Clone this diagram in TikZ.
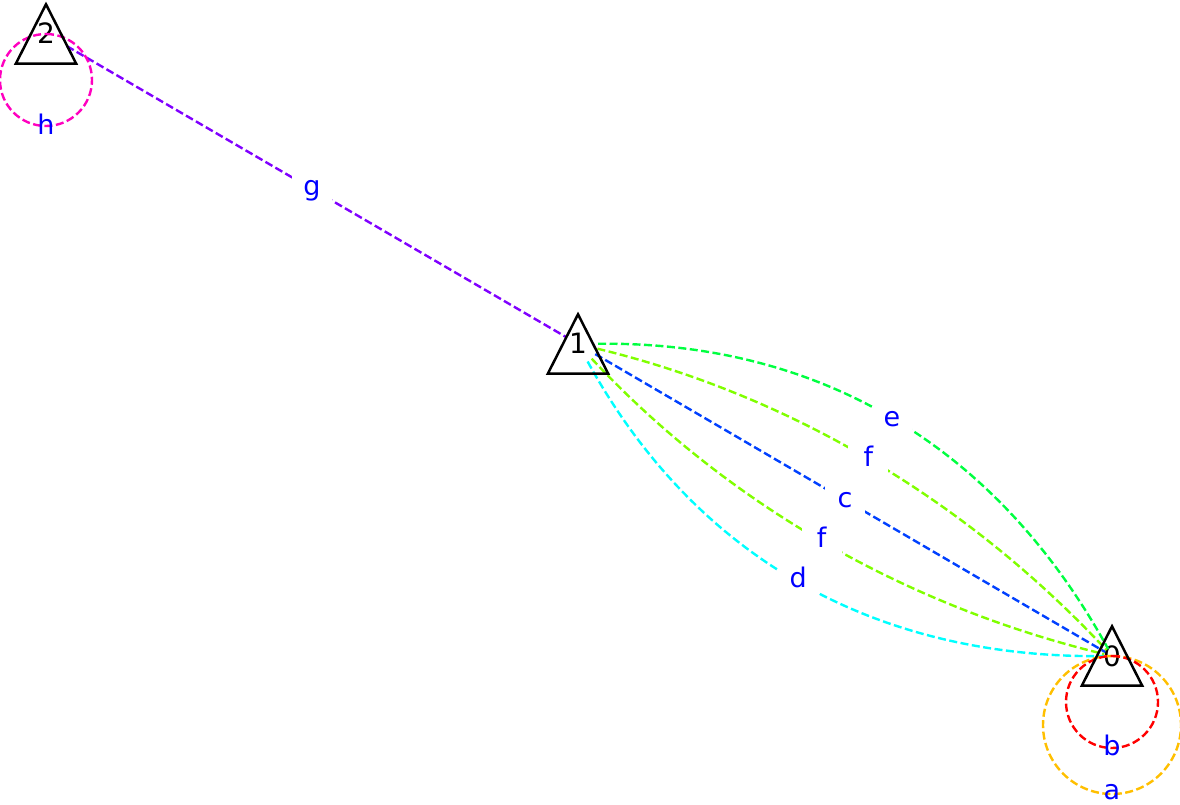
\documentclass[tikz,border=0pt]{standalone}
\usepackage{fontspec}
\setmainfont{DejaVu Sans}
\usetikzlibrary{calc}
\definecolor{ca}{HTML}{FFBF00}
\definecolor{cb}{HTML}{FF0000}
\definecolor{cc}{HTML}{0040FF}
\definecolor{cd}{HTML}{00FFFF}
\definecolor{ce}{HTML}{00FF40}
\definecolor{cf}{HTML}{80FF00}
\definecolor{cg}{HTML}{8000FF}
\definecolor{chh}{HTML}{FF00BF}
\definecolor{lblue}{HTML}{0000FF}
\begin{document}
\begin{tikzpicture}[x=1pt,y=1pt,
  vert/.style={rectangle, minimum width=60pt, minimum height=59pt, inner sep=0pt,
    font=\fontsize{28}{32}\selectfont, text height=23pt, text depth=3pt},
  tri/.style={draw=black, line width=2.5pt, line join=miter},
  edge/.style={line width=2.4pt, dash pattern=on 8pt off 3.5pt},
  elbl/.style={fill=white, text=lblue, inner sep=0pt, minimum width=40pt,
    font=\fontsize{27}{30}\selectfont, text height=20.5pt, text depth=6.5pt},
  llbl/.style={elbl, fill=none}]
\useasboundingbox (0,0) rectangle (1180,804);

% vertices
\node[vert] (n2) at (46,770) {2};
\node[vert] (n1) at (578,460) {1};
\node[vert] (n0) at (1112,148) {0};

% straight edge g
\draw[edge, cg, shorten <=24pt, shorten >=14pt] (n2.center) -- (n1.center)
  node[elbl, midway] {g};

% curved edges between 1 and 0
\coordinate (m10) at ($(n1.center)!0.5!(n0.center)$);
\coordinate (qe) at ($(m10)!0.6!90:(n0.center)$);
\coordinate (qf) at ($(m10)!0.3!90:(n0.center)$);
\coordinate (qF) at ($(m10)!0.3!-90:(n0.center)$);
\coordinate (qd) at ($(m10)!0.6!-90:(n0.center)$);

\draw[edge, ce, shorten <=20pt, shorten >=8pt] (n1.center)
  .. controls ($(n1.center)!0.6667!(qe)$) and ($(n0.center)!0.6667!(qe)$) .. (n0.center)
  node[elbl, pos=0.5] {e};
\draw[edge, cf, shorten <=20pt, shorten >=8pt] (n1.center)
  .. controls ($(n1.center)!0.6667!(qf)$) and ($(n0.center)!0.6667!(qf)$) .. (n0.center)
  node[elbl, pos=0.5] {f};
\draw[edge, cc, shorten <=20pt, shorten >=8pt] (n1.center) -- (n0.center)
  node[elbl, midway] {c};
\draw[edge, cf, shorten <=20pt, shorten >=8pt] (n1.center)
  .. controls ($(n1.center)!0.6667!(qF)$) and ($(n0.center)!0.6667!(qF)$) .. (n0.center)
  node[elbl, pos=0.5] {f};
\draw[edge, cd, shorten <=20pt, shorten >=8pt] (n1.center)
  .. controls ($(n1.center)!0.6667!(qd)$) and ($(n0.center)!0.6667!(qd)$) .. (n0.center)
  node[elbl, pos=0.5] {d};

% self loops
\draw[edge, chh] (n2.center) arc[start angle=90, end angle=-90, radius=46pt]
  node[llbl, yshift=-2pt] {h} arc[start angle=-90, end angle=-270, radius=46pt];
\draw[edge, ca] (n0.center) arc[start angle=90, end angle=-90, radius=69pt]
  node[llbl, yshift=2pt] {a} arc[start angle=-90, end angle=-270, radius=69pt];
\draw[edge, cb] (n0.center) arc[start angle=90, end angle=-90, radius=46pt]
  node[llbl] {b} arc[start angle=-90, end angle=-270, radius=46pt];

% triangles
\foreach \n in {n2,n1,n0}{
  \draw[tri] (\n.north) -- (\n.south west) -- (\n.south east) -- cycle;
}
\end{tikzpicture}
\end{document}
